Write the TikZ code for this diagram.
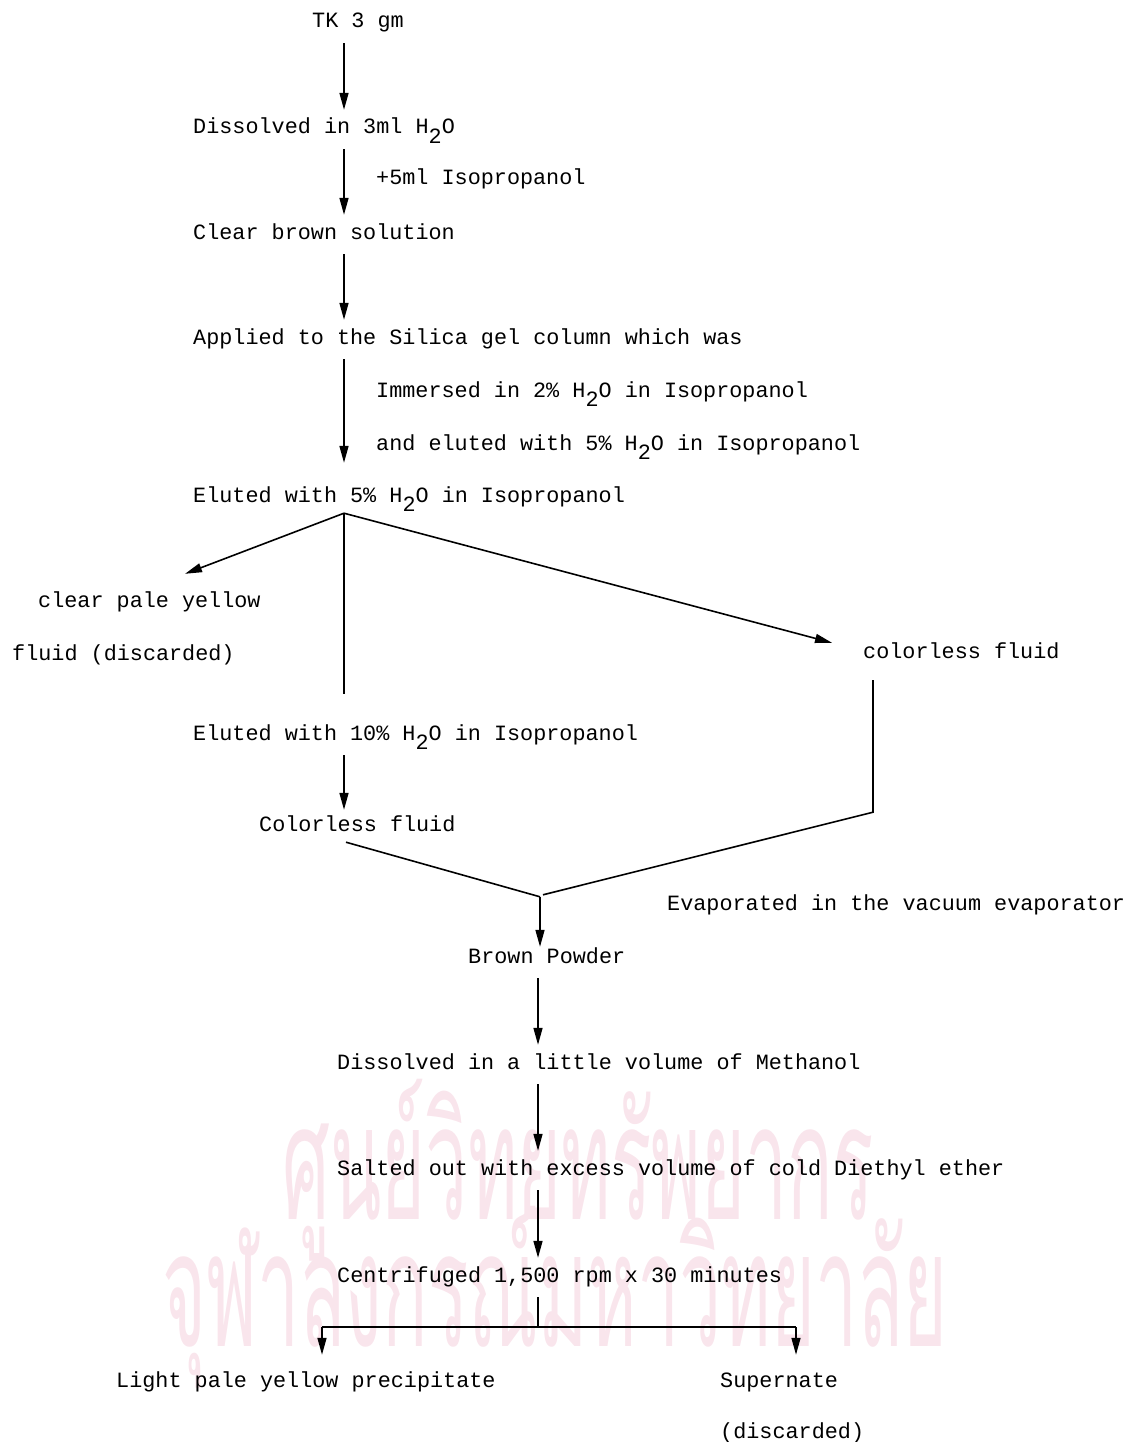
\documentclass[tikz,border=0pt]{standalone}
\usepackage{fontspec}
\setmainfont{Liberation Mono}
\newfontfamily\thaifont[Script=Thai]{Loma}
\usetikzlibrary{arrows.meta,positioning,calc}
\definecolor{wmpink}{RGB}{249,229,236}
\newcommand{\water}{H\raisebox{-0.45em}{2}O}

\tikzset{
  stage/.style={anchor=base west, inner sep=0pt, font=\fontsize{21.8}{26}\selectfont,
    text height=14pt, text depth=5pt},
  flow/.style={draw, line width=1.6pt, -{Triangle[length=17pt,width=9pt]},
    shorten <=10pt, shorten >=10pt},
  link/.style={draw, line width=1.6pt},
  stamp/.style={font=\thaifont\fontsize{160}{160}\selectfont, text=wmpink,
    xscale=0.47, transform shape, inner sep=0pt}
}

\begin{document}
\begin{tikzpicture}[x=1pt,y=-1pt]
  \useasboundingbox (0,0) rectangle (1130,1442);

  % watermark of the scanned page
  \node[stamp] (wm1) at (578,1170) {ศูนย์วิทยทรัพยากร};
  \node[stamp] (wm2) at (555,1297) {จุฬาลงกรณ์มหาวิทยาลัย};

  % main column
  \node[stage] (tk)   at (312,28)   {TK 3 gm};
  \node[stage] (dis)  at (193,134)  {Dissolved in 3ml \water};
  \node[stage] (iso)  at (376,185)  {+5ml Isopropanol};
  \node[stage] (clr)  at (193,239)  {Clear brown solution};
  \node[stage] (app)  at (193,344)  {Applied to the Silica gel column which was};
  \node[stage] (imm)  at (376,397)  {Immersed in 2\% \water\ in Isopropanol};
  \node[stage] (elw)  at (376,450)  {and eluted with 5\% \water\ in Isopropanol};
  \node[stage] (el5)  at (193,502)  {Eluted with 5\% \water\ in Isopropanol};
  \node[stage] (yel)  at (38,607)   {clear pale yellow};
  \node[stage] (dsc)  at (12,660)   {fluid (discarded)};
  \node[stage] (cfr)  at (863,658)  {colorless fluid};
  \node[stage] (el10) at (193,740)  {Eluted with 10\% \water\ in Isopropanol};
  \node[stage] (cfl)  at (259,831)  {Colorless fluid};
  \node[stage] (vac)  at (667,910)  {Evaporated in the vacuum evaporator};
  \node[stage] (pow)  at (468,963)  {Brown Powder};
  \node[stage] (meth) at (337,1069) {Dissolved in a little volume of Methanol};
  \node[stage] (eth)  at (337,1175) {Salted out with excess volume of cold Diethyl ether};
  \node[stage] (cen)  at (337,1282) {Centrifuged 1,500 rpm x 30 minutes};
  \node[stage] (ppt)  at (116,1387) {Light pale yellow precipitate};
  \node[stage] (sup)  at (720,1387) {Supernate};
  \node[stage] (sdc)  at (720,1438) {(discarded)};

  % helper points
  \coordinate (spine) at (344,0);
  \coordinate (spine2) at (538,0);
  \coordinate (split) at ([yshift=-6pt]el5.south -| spine);
  \coordinate (yelin) at ([xshift=147pt,yshift=19pt]yel.north west);
  \coordinate (cfrin) at ([xshift=-31pt,yshift=1pt]cfr.north west);
  \coordinate (rtop) at ([xshift=10pt,yshift=-17pt]cfr.south west);
  \coordinate (rbot) at ($(rtop)+(0,132)$);
  \coordinate (ltop) at ([xshift=87pt,yshift=-6pt]cfl.south west);
  \coordinate (join) at ($(pow.north west)+(72,-52)$);
  \coordinate (fork) at ([yshift=-40pt]cen.south -| spine2);
  \coordinate (pptin) at ([xshift=206pt,yshift=18pt]ppt.north west);
  \coordinate (supin) at ([xshift=76pt,yshift=18pt]sup.north west);

  % arrows
  \draw[flow] (tk.south -| spine) -- (dis.north -| spine);
  \draw[flow] (dis.south -| spine) -- (clr.north -| spine);
  \draw[flow] (clr.south -| spine) -- (app.north -| spine);
  \draw[flow, shorten >=25pt] (app.south -| spine) -- (el5.north -| spine);
  \draw[flow, shorten <=0pt, shorten >=0pt] (split) -- (yelin);
  \draw[flow, shorten <=0pt, shorten >=0pt] (split) -- (cfrin);
  \draw[link, shorten >=32pt] (split) -- (split |- el10.north);
  \draw[flow, shorten >=7pt] (el10.south -| spine) -- (cfl.north -| spine);
  \draw[link] (rtop) -- (rbot) -- ([xshift=3pt,yshift=2pt]join);
  \draw[link] (ltop) -- (join);
  \draw[flow, shorten <=0pt, shorten >=2pt] (join) -- (join |- pow.north);
  \draw[flow] (pow.south -| spine2) -- (meth.north -| spine2);
  \draw[flow] (meth.south -| spine2) -- (eth.north -| spine2);
  \draw[flow] (eth.south -| spine2) -- (cen.north -| spine2);
  \draw[link, shorten <=10pt] (cen.south -| spine2) -- (fork);
  \draw[link] (fork -| pptin) -- (fork -| supin);
  \draw[flow, shorten <=0pt, shorten >=0pt] (fork -| pptin) -- (pptin);
  \draw[flow, shorten <=0pt, shorten >=0pt] (fork -| supin) -- (supin);
\end{tikzpicture}
\end{document}
